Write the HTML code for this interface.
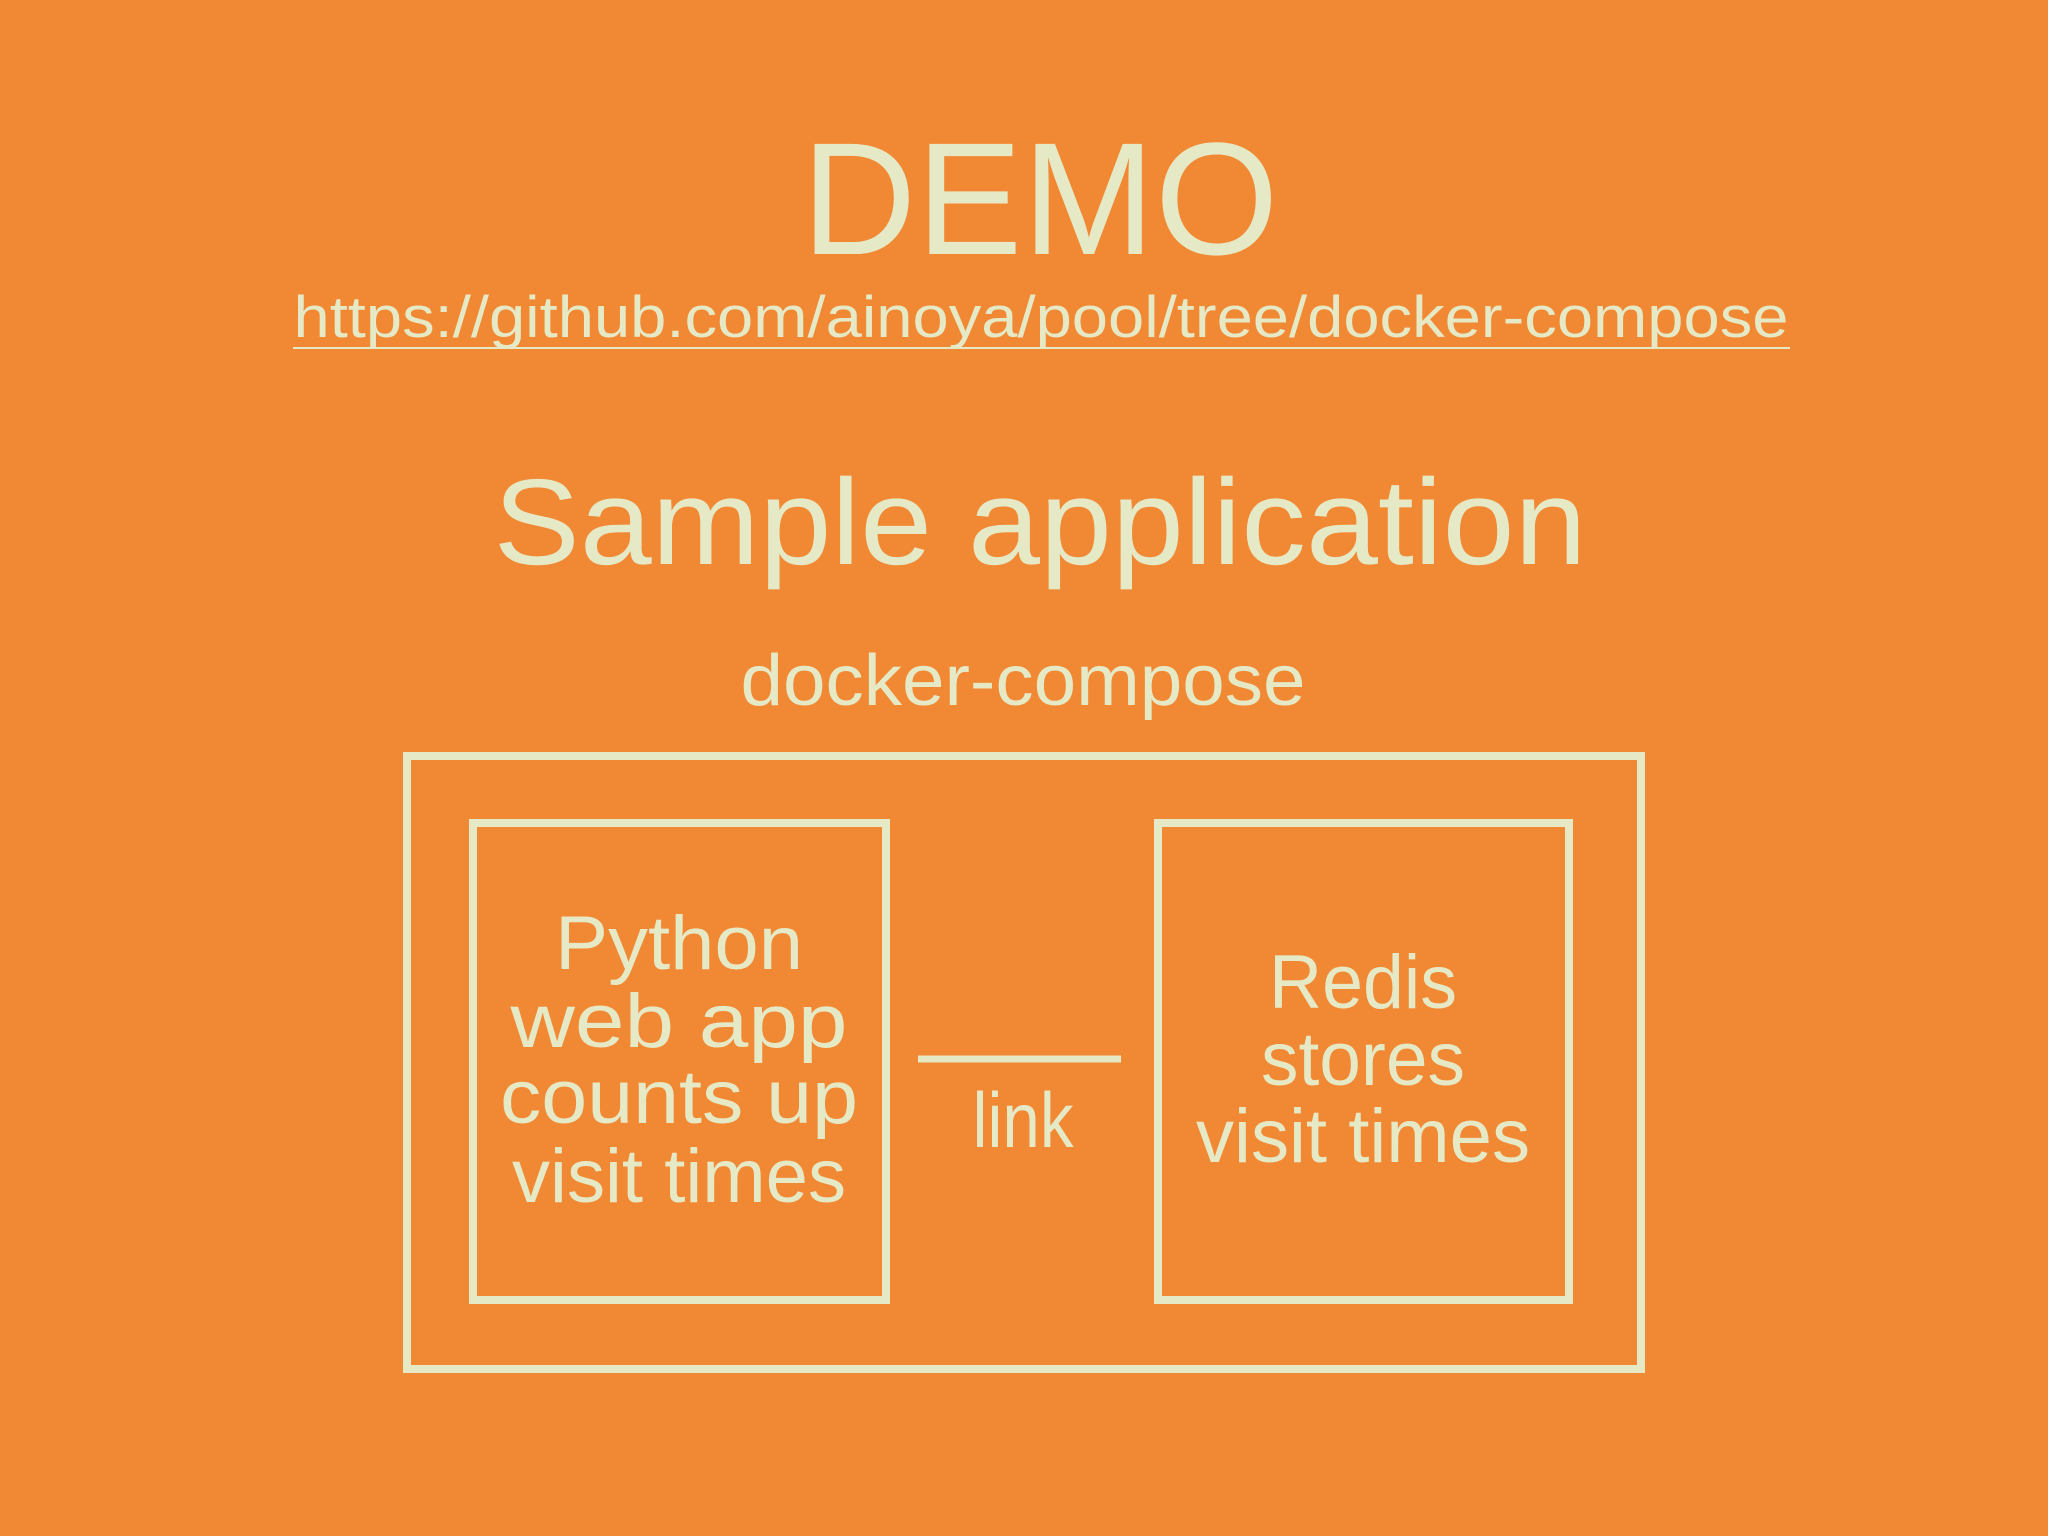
<!DOCTYPE html>
<html><head><meta charset="utf-8"><style>
html,body{margin:0;padding:0;background:#F18833;}
svg{display:block}
text{font-family:"Liberation Sans",sans-serif;fill:#E6E9C6;}
</style></head><body>
<svg width="2048" height="1536" viewBox="0 0 2048 1536" xmlns="http://www.w3.org/2000/svg">
<rect width="2048" height="1536" fill="#F18833"/>
<text x="1040" y="254" font-size="160" text-anchor="middle" textLength="477" lengthAdjust="spacingAndGlyphs">DEMO</text>
<text x="1041" y="337" font-size="58" text-anchor="middle" textLength="1495" lengthAdjust="spacingAndGlyphs">https://github.com/ainoya/pool/tree/docker-compose</text>
<line x1="293" y1="348" x2="1790" y2="348" stroke="#E6E9C6" stroke-width="2"/>
<text x="1040" y="564" font-size="122" text-anchor="middle" textLength="1093" lengthAdjust="spacingAndGlyphs">Sample application</text>
<text x="1023" y="705" font-size="72" text-anchor="middle" textLength="565" lengthAdjust="spacingAndGlyphs">docker-compose</text>
<g fill="none" stroke="#E6E9C6" stroke-width="8">
<rect x="407" y="756" width="1234" height="613"/>
<rect x="473" y="823" width="413" height="477"/>
<rect x="1158" y="823" width="411" height="477"/>
<line x1="918" y1="1059" x2="1121" y2="1059" stroke-width="7"/>
</g>
<g font-size="76" text-anchor="middle">
<text x="679" y="969" textLength="248" lengthAdjust="spacingAndGlyphs">Python</text>
<text x="679" y="1047" textLength="337" lengthAdjust="spacingAndGlyphs">web app</text>
<text x="679" y="1123" textLength="358" lengthAdjust="spacingAndGlyphs">counts up</text>
<text x="679" y="1202" textLength="334" lengthAdjust="spacingAndGlyphs">visit times</text>
<text x="1363" y="1008" textLength="188" lengthAdjust="spacingAndGlyphs">Redis</text>
<text x="1363" y="1085" textLength="204" lengthAdjust="spacingAndGlyphs">stores</text>
<text x="1363" y="1162" textLength="334" lengthAdjust="spacingAndGlyphs">visit times</text>
<text x="1023" y="1147" font-size="78" textLength="101" lengthAdjust="spacingAndGlyphs">link</text>
</g>
</svg>
</body></html>
